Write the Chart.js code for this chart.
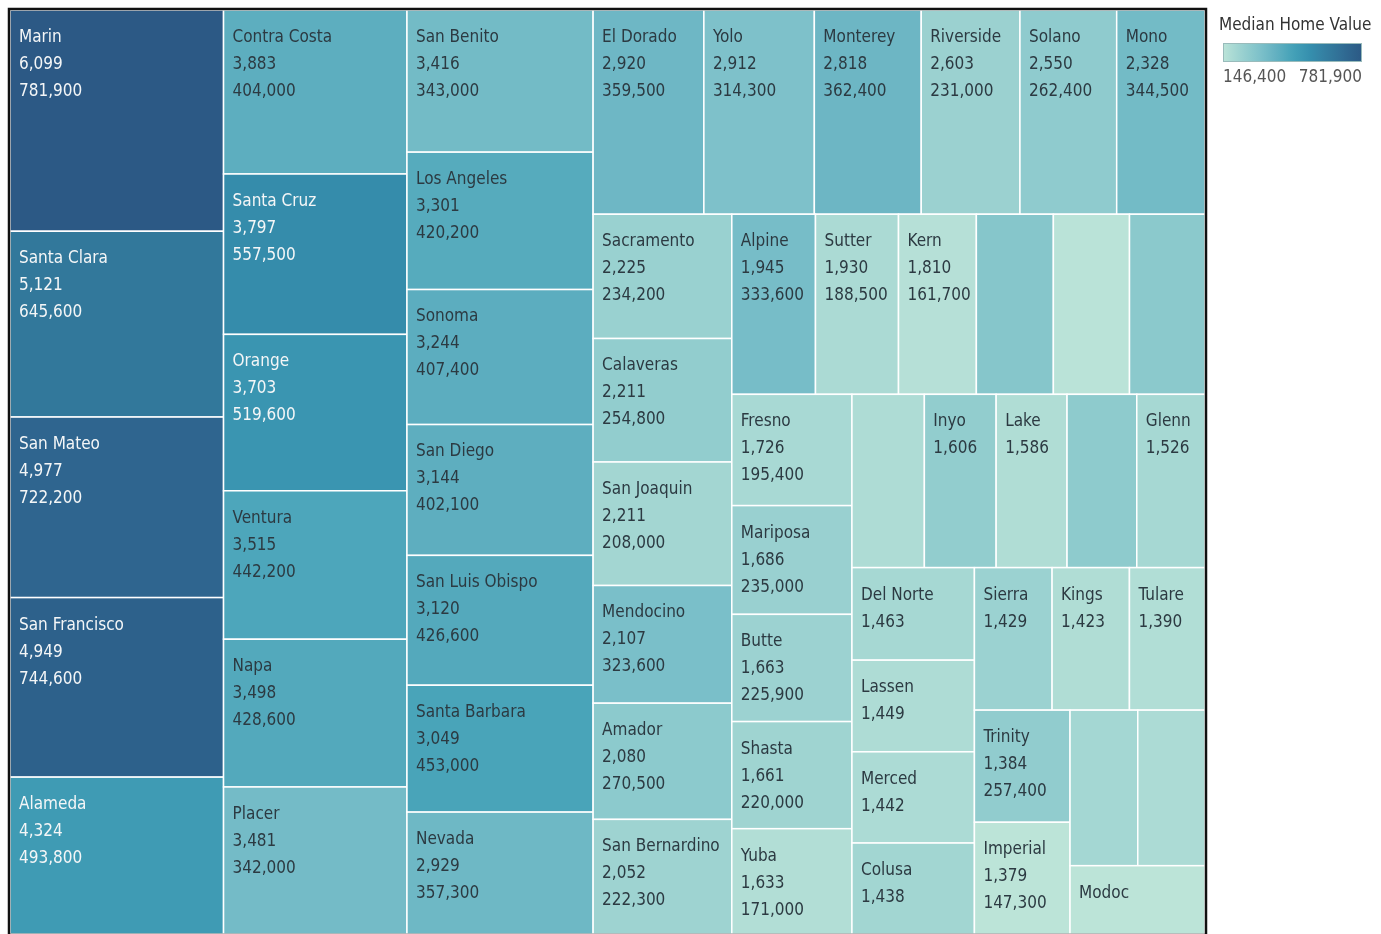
<!DOCTYPE html>
<html>
<head>
<meta charset="utf-8">
<title>Median Home Value by County</title>
<script src="https://cdn.jsdelivr.net/npm/chart.js@4.4.0/dist/chart.umd.min.js"></script>
<style>
	html, body { margin: 0; padding: 0; background: #fff; }
	#wrap { width: 1381px; height: 934px; }
</style>
</head>
<body>
<div id="wrap"><canvas id="grafico-treemap"></canvas></div>
<script>
// counties, sorted by size (largest first)
const counties = ['Marin', 'Santa Clara', 'San Mateo', 'San Francisco', 'Alameda',
'Contra Costa', 'Santa Cruz', 'Orange', 'Ventura', 'Napa', 'Placer',
'San Benito', 'Los Angeles', 'Sonoma', 'San Diego', 'San Luis Obispo', 'Santa Barbara', 'Nevada',
'El Dorado', 'Yolo', 'Monterey', 'Riverside', 'Solano', 'Mono',
'Sacramento', 'Calaveras', 'San Joaquin', 'Mendocino', 'Amador', 'San Bernardino',
'Alpine', 'Sutter', 'Kern', 'Humboldt', 'Tehama', 'Tuolumne',
'Fresno', 'Mariposa', 'Butte', 'Shasta', 'Yuba',
'Siskiyou', 'Inyo', 'Lake', 'Plumas', 'Glenn',
'Del Norte', 'Lassen', 'Merced', 'Colusa',
'Sierra', 'Kings', 'Tulare', 'Trinity', 'Imperial', 'Stanislaus', 'Madera', 'Modoc'];

const sizes = [6099, 5121, 4977, 4949, 4324,
3883, 3797, 3703, 3515, 3498, 3481,
3416, 3301, 3244, 3144, 3120, 3049, 2929,
2920, 2912, 2818, 2603, 2550, 2328,
2225, 2211, 2211, 2107, 2080, 2052,
1945, 1930, 1810, 1790, 1770, 1755,
1726, 1686, 1663, 1661, 1633,
1620, 1606, 1586, 1560, 1526,
1463, 1449, 1442, 1438,
1429, 1423, 1390, 1384, 1379, 1360, 1350, 1190];

const medianValues = [781900, 645600, 722200, 744600, 493800,
404000, 557500, 519600, 442200, 428600, 342000,
343000, 420200, 407400, 402100, 426600, 453000, 357300,
359500, 314300, 362400, 231000, 262400, 344500,
234200, 254800, 208000, 323600, 270500, 222300,
333600, 188500, 161700, 290000, 150000, 275000,
195400, 235000, 225900, 220000, 171000,
180000, 255000, 175000, 265000, 200000,
200000, 180000, 185000, 210000,
230000, 175000, 172000, 257400, 147300, 205000, 185000, 146400];

// how many label lines Tableau managed to show in each cell (name, size, median)
const labelLines = [3, 3, 3, 3, 3,
3, 3, 3, 3, 3, 3,
3, 3, 3, 3, 3, 3, 3,
3, 3, 3, 3, 3, 3,
3, 3, 3, 3, 3, 3,
3, 3, 3, 0, 0, 0,
3, 3, 3, 3, 3,
0, 2, 2, 0, 2,
2, 2, 2, 2,
2, 2, 2, 3, 3, 0, 0, 1];

const legendTitle = 'Median Home Value';
const legendMin = 146400;
const legendMax = 781900;

// Tableau "Blue-Teal" sequential palette
const colors = ['#bce4d8', '#aedcd5', '#a1d5d2', '#95cecf', '#89c8cc', '#7ec1ca', '#72bac6', '#66b2c2', '#59acbe', '#4ba5ba',
'#419eb6', '#3b96b2', '#358ead', '#3586a7', '#347ea1', '#32779b', '#316f96', '#2f6790', '#2d608a', '#2c5985'];

const PHI = (1 + Math.sqrt(5)) / 2;
const FONT = '17px "Liberation Sans Narrow", "DejaVu Sans Condensed", Lato, sans-serif';

function hexToRgb(h){
	return [parseInt(h.substr(1, 2), 16), parseInt(h.substr(3, 2), 16), parseInt(h.substr(5, 2), 16)];
}

function rampColor(v){
	let t = (v - legendMin) / (legendMax - legendMin);
	t = Math.max(0, Math.min(1, t));
	let p = t * (colors.length - 1);
	let i = Math.min(colors.length - 2, Math.floor(p));
	let f = p - i;
	let a = hexToRgb(colors[i]), b = hexToRgb(colors[i + 1]);
	let c = a.map((x, k) => Math.round(x + (b[k] - x) * f));
	return 'rgb(' + c.join(',') + ')';
}

// squarified layout (golden ratio target), rows placed along the shorter side
function squarify(values, x0, y0, x1, y1, ratio){
	let out = [];
	let n = values.length, i0 = 0, i1 = 0;
	let value = values.reduce((s, v) => s + v, 0);
	while (i0 < n) {
		let dx = x1 - x0, dy = y1 - y0;
		let sumValue = values[i1++];
		let minValue = sumValue, maxValue = sumValue;
		let alpha = Math.max(dy / dx, dx / dy) / (value * ratio);
		let beta = sumValue * sumValue * alpha;
		let minRatio = Math.max(maxValue / beta, beta / minValue);
		for (; i1 < n; ++i1) {
			let v = values[i1];
			sumValue += v;
			if (v < minValue) minValue = v;
			if (v > maxValue) maxValue = v;
			beta = sumValue * sumValue * alpha;
			let newRatio = Math.max(maxValue / beta, beta / minValue);
			if (newRatio > minRatio) { sumValue -= v; break; }
			minRatio = newRatio;
		}
		if (dx < dy) {
			let h = dy * sumValue / value, x = x0;
			for (let i = i0; i < i1; i++) {
				let w = dx * values[i] / sumValue;
				out[i] = [x, y0, x + w, y0 + h];
				x += w;
			}
			y0 += h;
		} else {
			let w = dx * sumValue / value, y = y0;
			for (let i = i0; i < i1; i++) {
				let h = dy * values[i] / sumValue;
				out[i] = [x0, y, x0 + w, y + h];
				y += h;
			}
			x0 += w;
		}
		value -= sumValue;
		i0 = i1;
	}
	return out;
}

function fmt(n){
	return n.toLocaleString('en-US');
}

const treemapPlugin = {
	id: 'treemap',
	beforeDatasetsDraw(chart){
		const ctx = chart.ctx;
		const area = chart.chartArea;
		const sx = chart.scales.x, sy = chart.scales.y;
		// Tableau squarifies in a space stretched by the view aspect
		const aspect = Math.pow((area.right - area.left) / (area.bottom - area.top), 2);
		const rects = squarify(sizes, 0, 0, aspect, 1, PHI);
		ctx.save();
		rects.forEach((r, i) => {
			let left = sx.getPixelForValue(r[0] / aspect);
			let right = sx.getPixelForValue(r[2] / aspect);
			let top = sy.getPixelForValue(r[1]);
			let bottom = sy.getPixelForValue(r[3]);
			ctx.fillStyle = rampColor(medianValues[i]);
			ctx.fillRect(left, top, right - left, bottom - top);
			ctx.strokeStyle = '#ffffff';
			ctx.lineWidth = 1.5;
			ctx.strokeRect(left, top, right - left, bottom - top);

			let lines = [counties[i], fmt(sizes[i]), fmt(medianValues[i])].slice(0, labelLines[i]);
			let t = (medianValues[i] - legendMin) / (legendMax - legendMin);
			ctx.fillStyle = t > 0.5 ? '#f4f6f7' : '#2c3a42';
			ctx.font = FONT;
			ctx.textBaseline = 'middle';
			ctx.textAlign = 'left';
			lines.forEach((txt, k) => {
				ctx.fillText(txt, left + 9, top + 27.5 + k * 27);
			});
		});
		// frame
		ctx.strokeStyle = '#111';
		ctx.lineWidth = 2.5;
		ctx.strokeRect(area.left - 1, area.top - 1, area.right - area.left + 2, area.bottom - area.top + 2);
		ctx.restore();
	},
	afterDraw(chart){
		const ctx = chart.ctx;
		const area = chart.chartArea;
		let lx = area.right + 14;
		ctx.save();
		ctx.font = FONT;
		ctx.fillStyle = '#333';
		ctx.textBaseline = 'middle';
		ctx.textAlign = 'left';
		ctx.fillText(legendTitle, lx, 26);

		let bx = lx + 4, bw = 139, by = 43, bh = 19;
		let grad = ctx.createLinearGradient(bx, 0, bx + bw, 0);
		colors.forEach((c, k) => grad.addColorStop(k / (colors.length - 1), c));
		ctx.fillStyle = grad;
		ctx.fillRect(bx, by, bw, bh);
		ctx.strokeStyle = '#9bb';
		ctx.lineWidth = 1;
		ctx.strokeRect(bx + 0.5, by + 0.5, bw - 1, bh - 1);

		ctx.fillStyle = '#555';
		ctx.fillText(fmt(legendMin), bx, 78);
		ctx.textAlign = 'right';
		ctx.fillText(fmt(legendMax), bx + bw, 78);
		ctx.restore();
	}
};

function montaTreemap(){
	const ctx = document.getElementById('grafico-treemap');
	new Chart(ctx, {
		type: 'scatter',
		data: {
			datasets: [{
				label: legendTitle,
				data: [],
				pointRadius: 0
			}]
		},
		options: {
			responsive: true,
			maintainAspectRatio: false,
			animation: false,
			layout: {
				padding: { left: 10, top: 10, right: 176, bottom: 0 }
			},
			scales: {
				x: { type: 'linear', min: 0, max: 1, display: false },
				y: { type: 'linear', min: 0, max: 1, reverse: true, display: false }
			},
			plugins: {
				legend: { display: false },
				tooltip: { enabled: false }
			}
		},
		plugins: [treemapPlugin]
	});
}

montaTreemap();
</script>
</body>
</html>
